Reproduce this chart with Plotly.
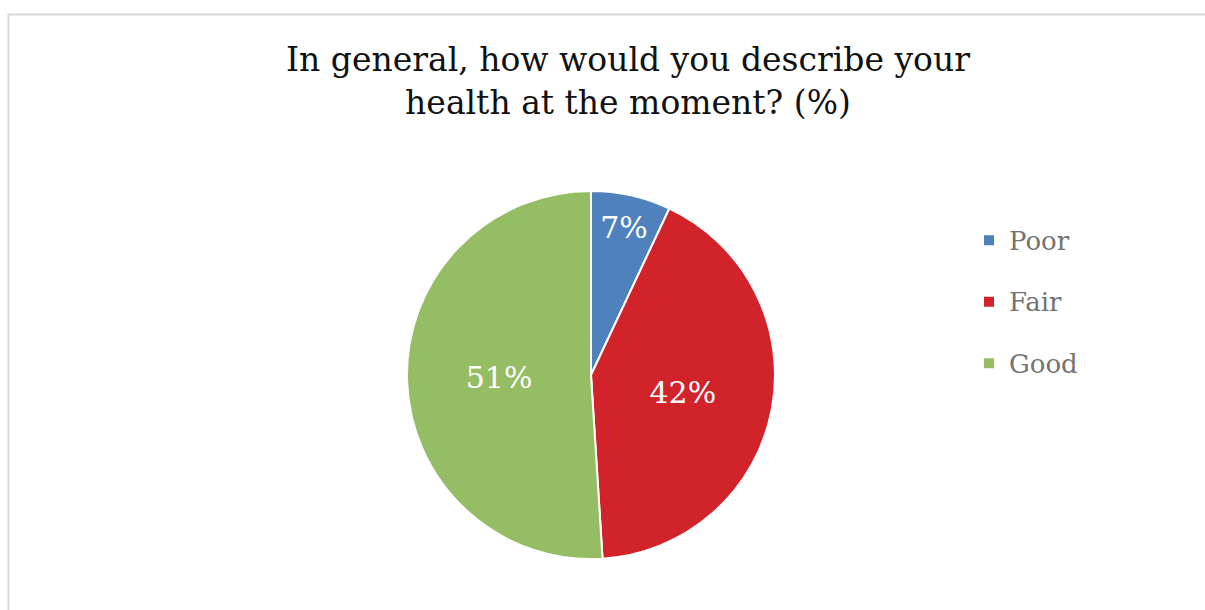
import plotly.graph_objects as go

# Survey answers and their shares (%)
categories = ["Poor", "Fair", "Good"]
shares = [7, 42, 51]
slice_colors = ["#4F81BD", "#D2222A", "#95BD63"]

title_text = "In general, how would you describe your<br>health at the moment? (%)"

W, H = 1205, 610
FONT = "DejaVu Serif"

# Pie sits in a square box: centre (591, 375), radius ~184 px
cx, cy, r = 591, 375, 184
dom_x = [(cx - r) / W, (cx + r) / W]
dom_y = [(H - cy - r) / H, (H - cy + r) / H]

# legend entries are spaced wider than their text height
legend_labels = [
    f'<span style="font-size:26px;baseline-shift:8px">{c}</span>' for c in categories
]

fig = go.Figure(
    go.Pie(
        labels=legend_labels,
        values=shares,
        sort=False,
        direction="clockwise",
        rotation=0,
        marker=dict(colors=slice_colors, line=dict(color="white", width=2)),
        texttemplate="%{percent:.0%}",
        textposition="inside",
        insidetextorientation="horizontal",
        textfont=dict(family=FONT, size=30, color="white"),
        domain=dict(x=dom_x, y=dom_y),
        hoverinfo="label+percent",
    )
)

fig.update_layout(
    width=W,
    height=H,
    margin=dict(l=0, r=0, t=0, b=0),
    paper_bgcolor="white",
    plot_bgcolor="white",
    font=dict(family=FONT),
    title=dict(
        text=title_text,
        font=dict(family=FONT, size=33, color="#111111"),
        x=628 / W,
        xanchor="center",
        xref="paper",
        y=1 - 71 / H,
        yanchor="middle",
        yref="container",
    ),
    legend=dict(
        x=969 / W,
        xanchor="left",
        y=1 - 302 / H,
        yanchor="middle",
        font=dict(family=FONT, size=45, color="#737373"),
        bgcolor="rgba(0,0,0,0)",
        tracegroupgap=0,
    ),
    shapes=[
        dict(
            type="rect",
            xref="paper",
            yref="paper",
            x0=8.5 / W,
            x1=1.02,
            y0=-0.05,
            y1=1 - 14.5 / H,
            line=dict(color="#D9D9D9", width=2),
            fillcolor="rgba(0,0,0,0)",
            layer="below",
        )
    ],
)

fig.write_html("out.html")
